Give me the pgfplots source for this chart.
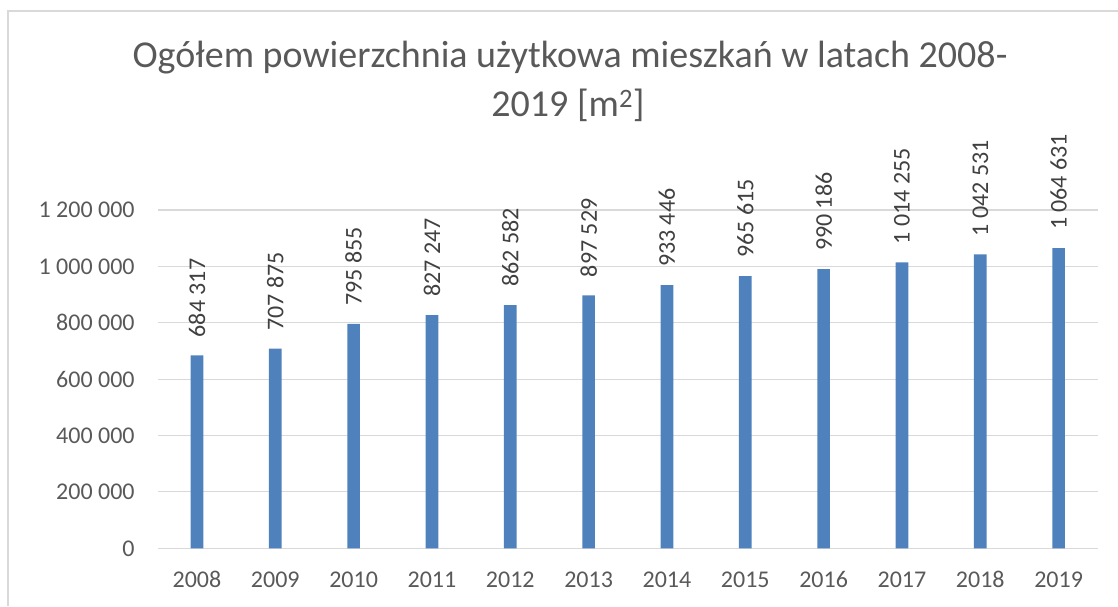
\documentclass[border=0pt]{standalone}
\usepackage{pgfplots}
\pgfplotsset{compat=1.18}
\usepackage{fontspec}
\setmainfont{Carlito}
\definecolor{barblue}{HTML}{4F81BD}
\definecolor{gridc}{HTML}{D9D9D9}
\definecolor{txt}{HTML}{595959}
\definecolor{lbl}{HTML}{404040}
\begin{document}
\begin{tikzpicture}[x=1pt,y=1pt]
\useasboundingbox (0,0) rectangle (1118,606);
\draw[color=gridc, line width=1.2pt] (8,0) -- (8,595) -- (1118,595);
\node[anchor=base, text=txt, font=\fontsize{38}{46}\selectfont] at (570,538) {Ogółem powierzchnia użytkowa mieszkań w latach 2008-};
\node[anchor=base, text=txt, font=\fontsize{38}{46}\selectfont] at (568,489.3) {2019 [m\textsuperscript{2}]};
\begin{axis}[
  at={(157.8pt,57.7pt)}, anchor=south west,
  scale only axis, width=940pt, height=338.3pt,
  xmin=-0.5, xmax=11.5, ymin=0, ymax=1200000,
  scaled y ticks=false,
  axis line style={draw=none},
  major tick length=0pt,
  ymajorgrids, grid style={color=gridc, line width=1.1pt},
  xtick={0,...,11},
  xticklabels={2008,2009,2010,2011,2012,2013,2014,2015,2016,2017,2018,2019},
  ytick={0,200000,400000,600000,800000,1000000,1200000},
  yticklabels={0,200 000,400 000,600 000,800 000,1 000 000,1 200 000},
  xticklabel style={anchor=base, yshift=-39pt, text=txt, font=\fontsize{24}{28}\selectfont},
  yticklabel style={anchor=east, inner sep=0pt, xshift=-23pt, text=txt, font=\fontsize{24}{28}\selectfont},
  ybar, bar width=12.7pt,
  nodes near coords,
  point meta=explicit symbolic,
  nodes near coords style={rotate=90, anchor=west, inner xsep=18pt, inner ysep=0pt, text=lbl, font=\fontsize{24}{28}\selectfont},
  clip=false,
]
\addplot[fill=barblue, draw=none] coordinates {
(0,684317) [684 317]
(1,707875) [707 875]
(2,795855) [795 855]
(3,827247) [827 247]
(4,862582) [862 582]
(5,897529) [897 529]
(6,933446) [933 446]
(7,965615) [965 615]
(8,990186) [990 186]
(9,1014255) [1 014 255]
(10,1042531) [1 042 531]
(11,1064631) [1 064 631]
};
\end{axis}
\end{tikzpicture}
\end{document}
